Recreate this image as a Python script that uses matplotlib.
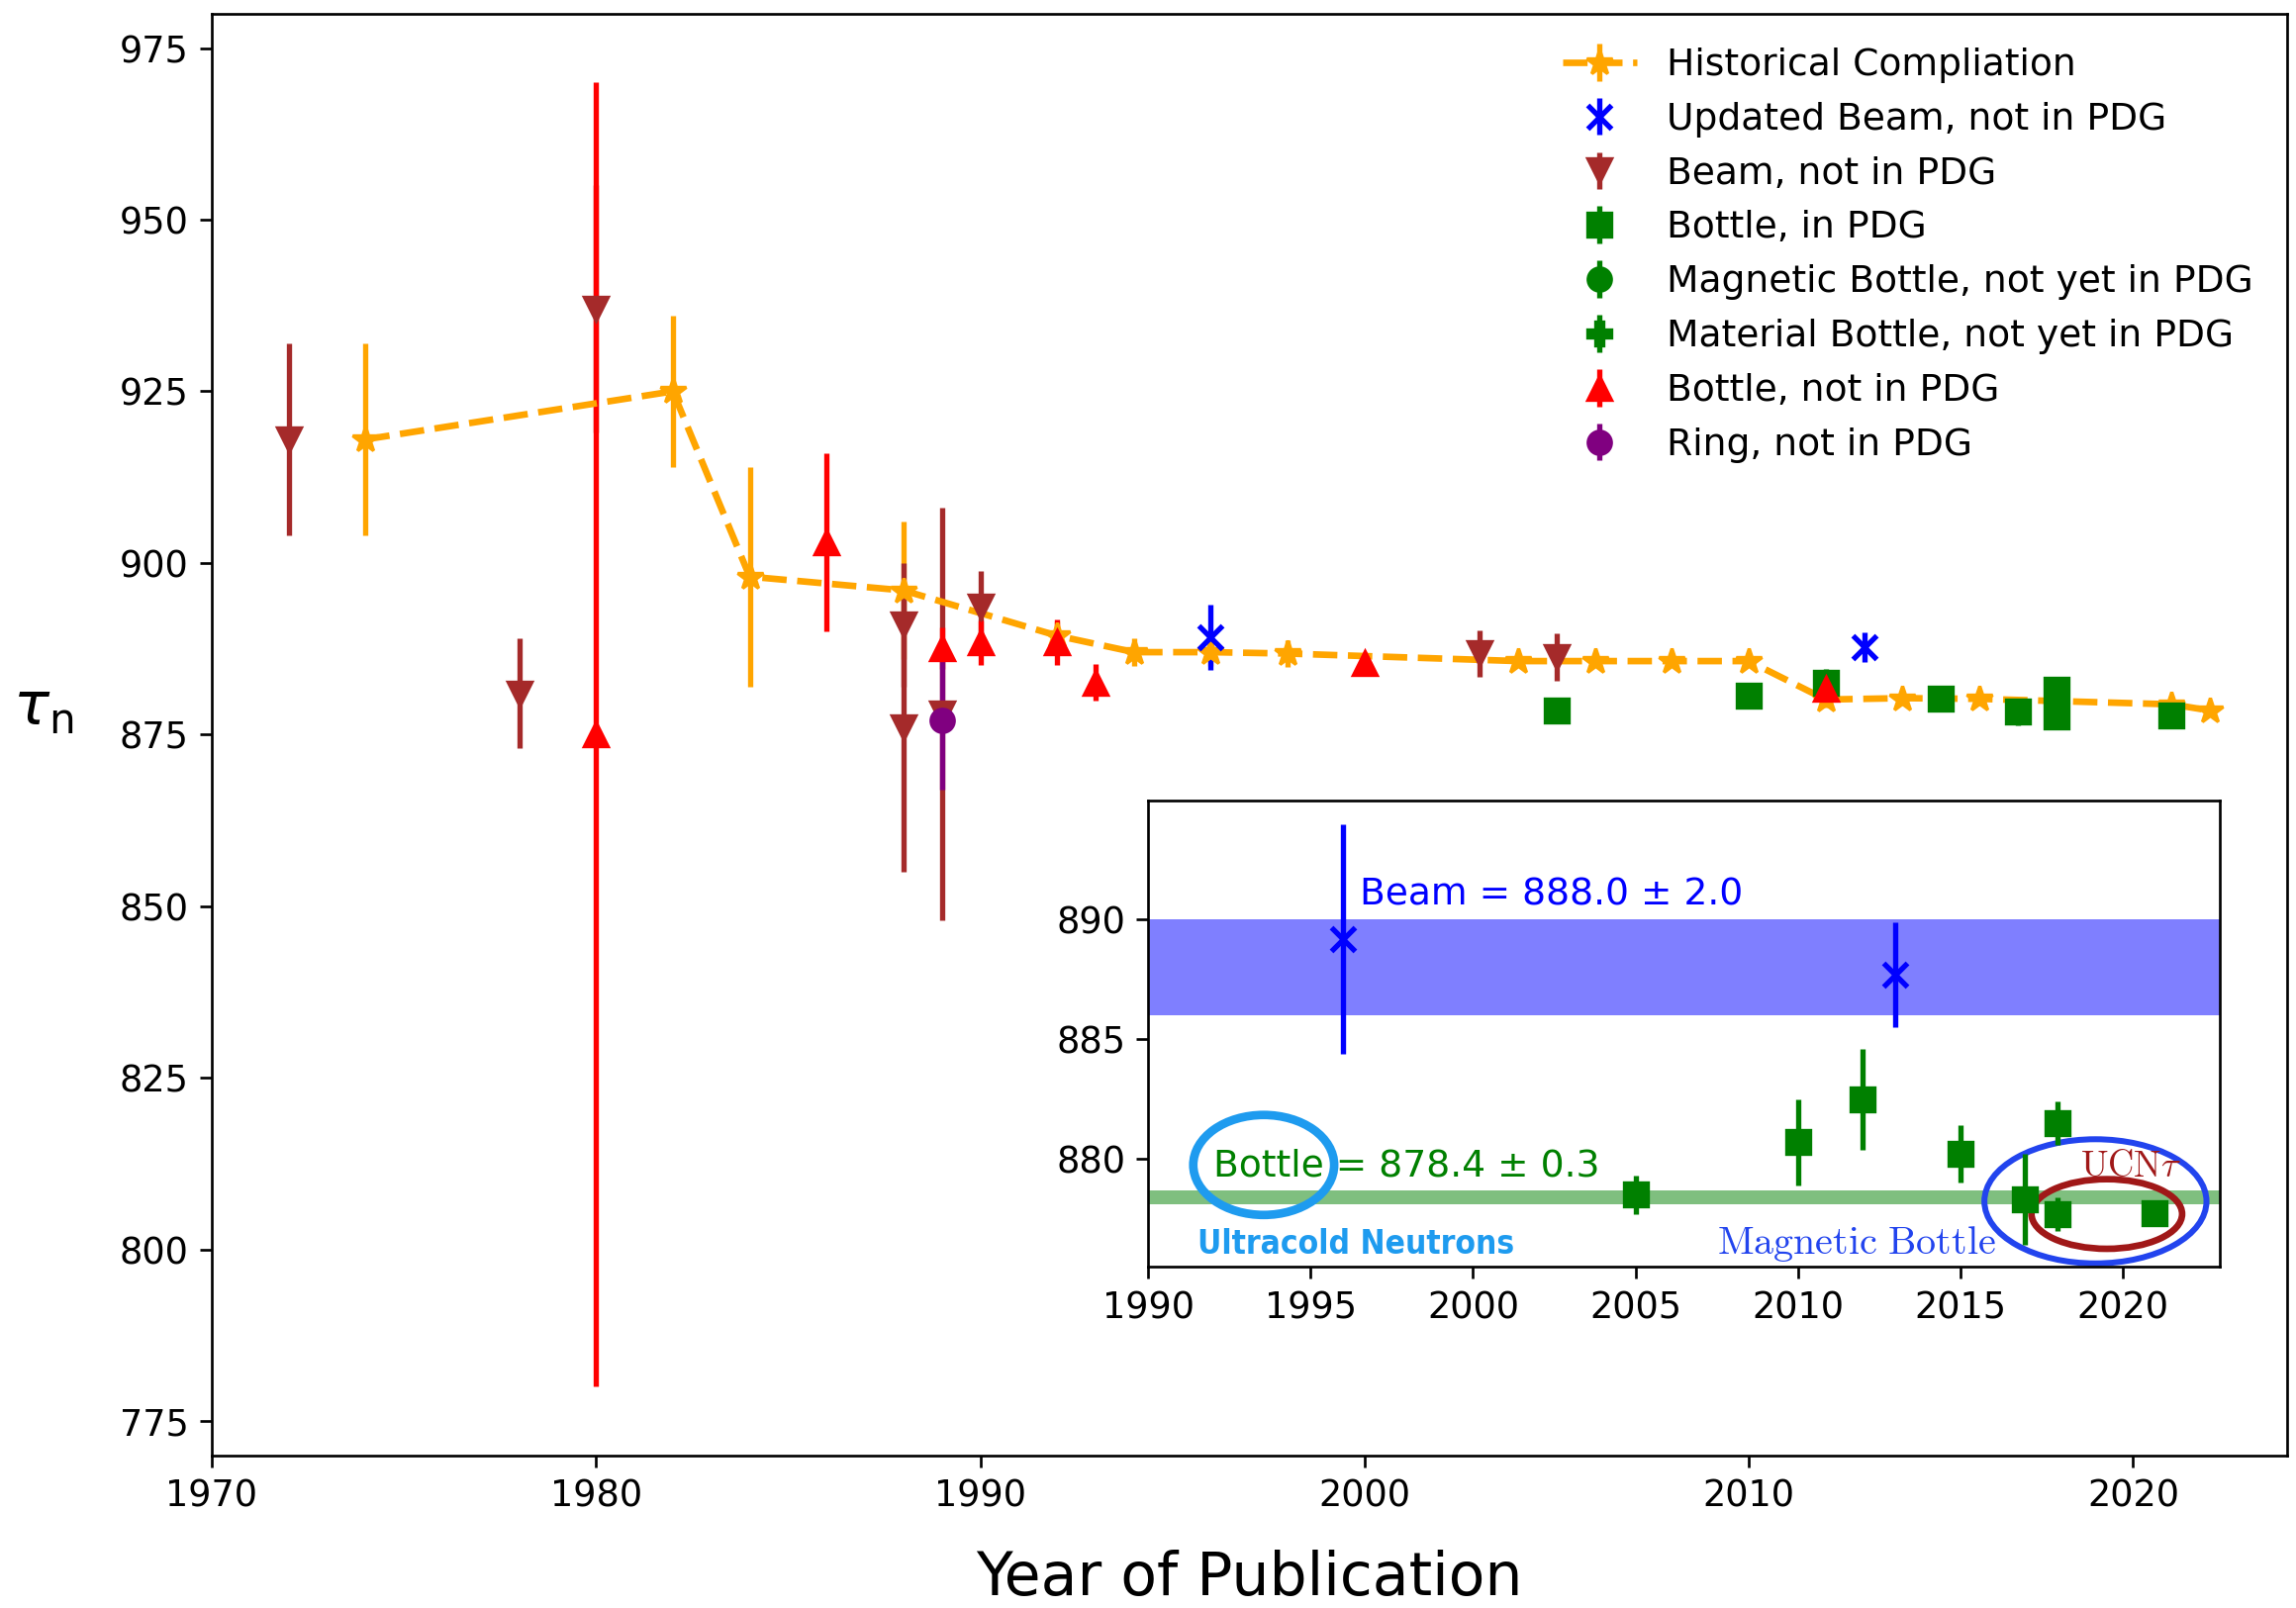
import numpy as np
import matplotlib
matplotlib.use("Agg")
import matplotlib.pyplot as plt
from matplotlib import font_manager
from matplotlib.patches import Ellipse

plt.rcParams["font.size"] = 11

# historical PDG-style compilation
hist_year = [1974, 1982, 1984, 1988, 1992, 1994, 1996, 1998, 2004, 2006, 2008, 2010,
             2012, 2014, 2016, 2021, 2022]
hist_tau = [918, 925, 898, 896, 889.4, 887.0, 887.0, 886.8, 885.7, 885.7, 885.7, 885.7,
            880.1, 880.3, 880.2, 879.4, 878.5]
hist_err = [14, 11, 16, 10, 2.1, 2.0, 2.0, 1.9, 0.8, 0.8, 0.8, 0.8,
            1.1, 1.1, 1.0, 0.6, 0.5]

# updated beam results
ubeam_year = [1996, 2013]
ubeam_tau = [889.2, 887.7]
ubeam_err = [4.8, 2.2]

# beam, not in PDG
beam_year = [1972, 1978, 1980, 1988, 1988, 1989, 1990, 2003, 2005]
beam_tau = [918, 881, 937, 891, 876, 878, 893.6, 886.8, 886.3]
beam_err = [14, 8, 18, 9, 21, 30, 5.3, 3.4, 3.4]

# bottle, in PDG
bottle_year = [2005, 2010, 2012, 2015, 2017, 2018, 2018, 2021]
bottle_tau = [878.5, 880.7, 882.5, 880.2, 878.3, 881.5, 877.7, 877.75]
bottle_err = [0.8, 1.8, 2.1, 1.2, 1.9, 0.9, 0.7, 0.34]

# legend-only categories
mag_year, mag_tau, mag_err = [], [], []
mat_year, mat_tau, mat_err = [], [], []

# bottle, not in PDG
nbottle_year = [1980, 1986, 1989, 1990, 1992, 1993, 2000, 2012]
nbottle_tau = [875, 903, 887.6, 888.4, 888.4, 882.6, 885.4, 881.7]
nbottle_err = [95, 13, 3.0, 3.2, 3.3, 2.7, 0.9, 0.8]

# ring
ring_year = [1989]
ring_tau = [877]
ring_err = [10]

# inset averages
beam_avg, beam_avg_err = 888.0, 2.0
bottle_avg, bottle_avg_err = 878.4, 0.3

# a narrow face for the hand-made "Ultracold Neutrons" tag, if there is one
fonts = font_manager.fontManager.ttflist
if any(f.name == "Liberation Sans Narrow" for f in fonts):
    ucn_font = dict(family="Liberation Sans Narrow", fontweight="bold", fontsize=11)
elif any(f.name == "DejaVu Sans" and "condensed" in str(f.stretch) for f in fonts):
    ucn_font = dict(family="DejaVu Sans", fontstretch="condensed", fontweight="bold",
                    fontsize=10)
else:
    ucn_font = dict(family="DejaVu Sans", fontweight="bold", fontsize=8.8)

fig = plt.figure(figsize=(2320 / 240, 1625 / 240), dpi=240)
ax = fig.add_axes([0.0922, 0.0950, 0.9038, 0.8964])

eb = dict(ms=7, elinewidth=1.6)
ax.errorbar(hist_year, hist_tau, yerr=hist_err, fmt="*--", color="orange", lw=2,
            ms=8, elinewidth=1.6, label="Historical Compliation")
ax.errorbar(ubeam_year, ubeam_tau, yerr=ubeam_err, fmt="x", color="blue", mew=1.6,
            label="Updated Beam, not in PDG", **eb)
ax.errorbar(beam_year, beam_tau, yerr=beam_err, fmt="v", color="brown",
            label="Beam, not in PDG", **eb)
ax.errorbar(bottle_year, bottle_tau, yerr=bottle_err, fmt="s", color="green",
            label="Bottle, in PDG", **eb)
ax.errorbar(mag_year, mag_tau, yerr=mag_err, fmt="o", color="green",
            label="Magnetic Bottle, not yet in PDG", **eb)
ax.errorbar(mat_year, mat_tau, yerr=mat_err, fmt="P", color="green",
            label="Material Bottle, not yet in PDG", **eb)
ax.errorbar(nbottle_year, nbottle_tau, yerr=nbottle_err, fmt="^", color="red",
            label="Bottle, not in PDG", **eb)
ax.errorbar(ring_year, ring_tau, yerr=ring_err, fmt="o", color="purple",
            label="Ring, not in PDG", **eb)

ax.set_xlim(1970, 2024)
ax.set_ylim(770, 980)
ax.set_xticks(range(1970, 2021, 10))
ax.set_yticks(range(775, 976, 25))
ax.set_xlabel("Year of Publication", fontsize=18, labelpad=10.5)
ax.set_ylabel(r"$\tau_\mathrm{n}$", fontsize=18, rotation=0, ha="center", va="center")
ax.yaxis.set_label_coords(-0.081, 0.518)
ax.legend(loc="upper right", frameon=False, fontsize=11.3, labelspacing=0.5)

# inset: recent measurements
axin = fig.add_axes([0.5002, 0.2123, 0.4666, 0.2901])
axin.axhspan(beam_avg - beam_avg_err, beam_avg + beam_avg_err, color="blue", alpha=0.5, lw=0)
axin.axhspan(bottle_avg - bottle_avg_err, bottle_avg + bottle_avg_err, color="green",
             alpha=0.5, lw=0)
axin.errorbar(ubeam_year, ubeam_tau, yerr=ubeam_err, fmt="x", color="blue", mew=1.6, **eb)
axin.errorbar(bottle_year, bottle_tau, yerr=bottle_err, fmt="s", color="green", **eb)
axin.set_xlim(1990, 2023)
axin.set_ylim(875.5, 895)
axin.set_xticks(range(1990, 2021, 5))
axin.set_yticks([880, 885, 890])

axin.text(1996.5, 890.6, f"Beam = {beam_avg:.1f} ± {beam_avg_err:.1f}", color="blue",
          fontsize=11.3)
axin.text(1992.0, 879.3, f"Bottle = {bottle_avg:.1f} ± {bottle_avg_err:.1f}",
          color="green", fontsize=11.3)
axin.text(1991.5, 876.05, "Ultracold Neutrons", color="#1e9bef", **ucn_font)
axin.text(2007.5, 876.05, r"$\mathrm{Magnetic\ Bottle}$", color="#2244ee",
          fontsize=12, math_fontfamily="cm")
axin.text(2018.7, 879.25, r"$\mathrm{UCN}\tau$", color="#a01818", fontsize=11,
          math_fontfamily="cm")
axin.add_patch(Ellipse((1993.55, 879.75), 4.34, 4.18, fill=False, ec="#1e9bef", lw=2.6,
                       clip_on=False))
axin.add_patch(Ellipse((2019.17, 878.23), 6.84, 5.19, fill=False, ec="#2244ee", lw=1.8,
                       clip_on=False))
axin.add_patch(Ellipse((2019.52, 877.7), 4.64, 2.91, fill=False, ec="#a01818", lw=2.0,
                       clip_on=False))

fig.savefig("out.png", dpi=240)
